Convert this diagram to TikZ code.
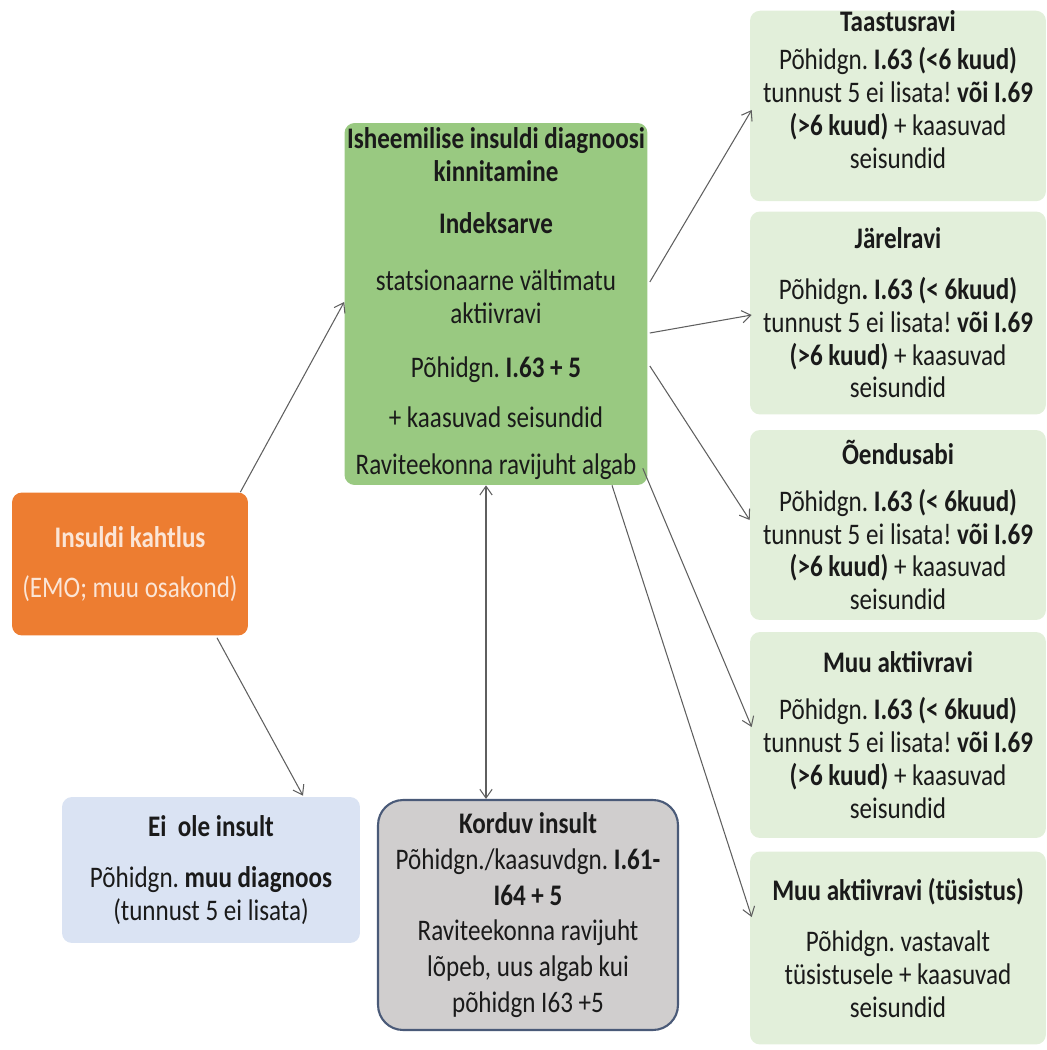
\documentclass[tikz,border=0pt]{standalone}
\usepackage{fontspec}
\setmainfont{Carlito}[FakeStretch=0.84]
\frenchspacing
\usetikzlibrary{arrows.meta, positioning, calc}

\definecolor{maingreen}{HTML}{99C981}
\definecolor{palegreen}{HTML}{E2EFDA}
\definecolor{suspor}{HTML}{ED7D31}
\definecolor{susptext}{HTML}{FBE5D6}
\definecolor{paleblue}{HTML}{DAE3F3}
\definecolor{kordgray}{HTML}{D0CECE}
\definecolor{kordedge}{HTML}{4A5A78}
\definecolor{linkgray}{HTML}{5F5F5F}
\definecolor{ink}{HTML}{1A1A1A}

\tikzset{
   box/.style={rounded corners=0.2cm, align=center, inner sep=0pt, text=ink,
               font=\fontsize{17}{18.7}\selectfont},
   mainbox/.style={box, fill=maingreen, minimum width=6.06cm, minimum height=7.24cm},
   rbox/.style={box, fill=palegreen, minimum width=5.92cm},
   link/.style={draw=linkgray, line width=0.6pt, -{Straight Barb[length=5pt,width=7pt]}},
   dlink/.style={link, {Straight Barb[length=5pt,width=7pt]}-{Straight Barb[length=5pt,width=7pt]}}
}

\begin{document}
\begin{tikzpicture}[x=0.02cm, y=-0.02cm]
   \useasboundingbox (0,0) rectangle (1046,1050);

   % Nodes
      \node[mainbox]  (main)  at (496,304)  {\textbf{Isheemilise insuldi diagnoosi}\\ \textbf{kinnitamine}\\[11pt]
                                              \textbf{Indeksarve}\\[13.5pt]
                                              statsionaarne vältimatu\\ aktiivravi\\[12pt]
                                              Põhidgn. \textbf{I.63 + 5}\\[9.6pt]
                                              + kaasuvad seisundid\\[8.5pt]
                                              Raviteekonna ravijuht algab};
      \node[box, fill=suspor, text=susptext, minimum width=4.72cm, minimum height=2.86cm]
                      (susp)  at (130,564)  {\textbf{Insuldi kahtlus}\\[10pt] (EMO; muu osakond)};
      \node[box, fill=paleblue, minimum width=5.96cm, minimum height=2.92cm]
                      (noins) at (211,870)  {\textbf{Ei\ \ ole insult}\\[10pt] Põhidgn. \textbf{muu diagnoos}\\ (tunnust 5 ei lisata)};
      \node[box, fill=kordgray, draw=kordedge, line width=1.2pt, rounded corners=0.5cm,
            minimum width=6cm, minimum height=4.6cm, font=\fontsize{17}{20.4}\selectfont]
                      (kord)  at (528,915)  {\textbf{Korduv insult}\\ Põhidgn./kaasuvdgn. \textbf{I.61-}\\ \textbf{I64 + 5}\\
                                              Raviteekonna ravijuht\\ lõpeb, uus algab kui\\ põhidgn I63 +5};

      \node[rbox, minimum height=3.76cm]  (t1)  at (898,106)  {\textbf{Taastusravi}\\[3pt] Põhidgn. \textbf{I.63 (<6 kuud)}\\
                                              tunnust 5 ei lisata! \textbf{või I.69}\\ \textbf{(>6 kuud)} + kaasuvad\\ seisundid\\ \mbox{}};
      \node[rbox, minimum height=4.06cm]  (t2)  at (898,313)  {\textbf{Järelravi}\\[10pt] Põhidgn\textbf{. I.63 (< 6kuud)}\\
                                              tunnust 5 ei lisata! \textbf{või I.69}\\ \textbf{(>6 kuud)} + kaasuvad\\ seisundid};
      \node[rbox, minimum height=3.8cm]   (t3)  at (898,525)  {\textbf{Õendusabi}\\[8pt] Põhidgn. \textbf{I.63 (< 6kuud)}\\
                                              tunnust 5 ei lisata! \textbf{või I.69}\\ \textbf{(>6 kuud)} + kaasuvad\\ seisundid};
      \node[rbox, minimum height=4.12cm]  (t4)  at (898,735)  {\textbf{Muu aktiivravi}\\[8pt] Põhidgn. \textbf{I.63 (< 6kuud)}\\
                                              tunnust 5 ei lisata! \textbf{või I.69}\\ \textbf{(>6 kuud)} + kaasuvad\\ seisundid};
      \node[rbox, minimum height=3.86cm]  (t5)  at (898,948)  {\textbf{Muu aktiivravi (tüsistus)}\\[10pt] Põhidgn. vastavalt\\
                                              tüsistusele + kaasuvad\\ seisundid};

   % Paths
      \path ($(susp.north east)+(-8,0)$)   edge[link]  ($(main.west)+(0,-2)$);
      \path ($(susp.south)+(87,2)$)        edge[link]  ($(noins.north)+(92,-1)$);
      \path ($(main.south)+(-10,0)$)       edge[dlink] ($(kord.north)+(-42,0)$);
      \path ($(main.east)+(2,-22)$)        edge[link]  ($(t1.west)+(2,4)$);
      \path ($(main.east)+(2,29)$)         edge[link]  ($(t2.west)+(2,2)$);
      \path ($(main.east)+(2,62)$)         edge[link]  ($(t3.west)+(0,-5)$);
      \path ($(main.south east)+(-5,-17)$) edge[link]  ($(t4.west)+(2,-8)$);
      \path ($(main.south)+(116,0)$)       edge[link]  ($(t5.west)+(2,-31)$);
\end{tikzpicture}
\end{document}
